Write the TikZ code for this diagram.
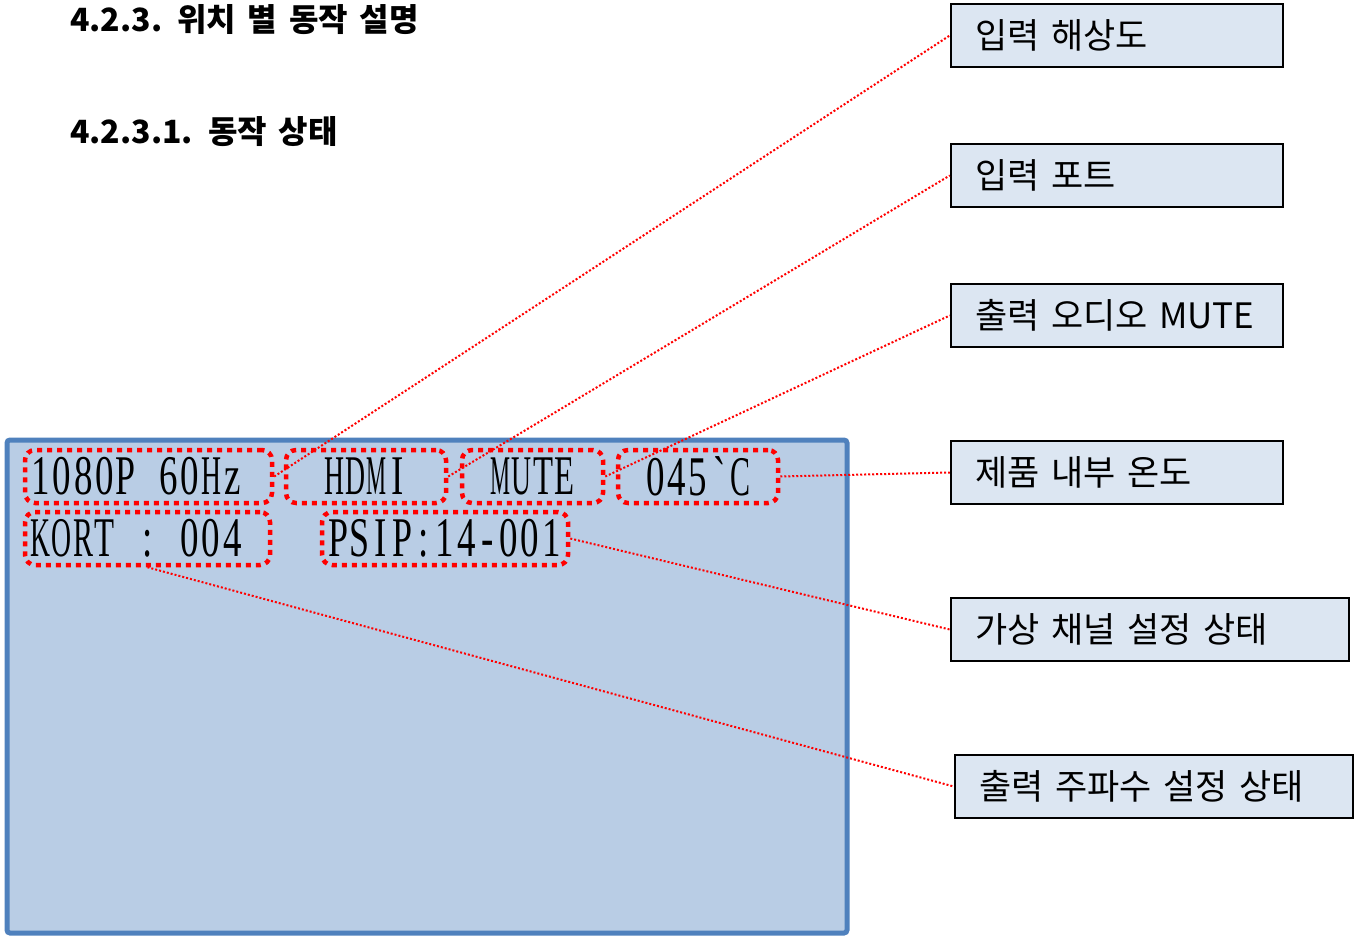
\documentclass[tikz,border=0pt]{standalone}
\usepackage{fontspec}
\usepackage{xcolor}
\usepackage{graphicx}
\usepackage{tikz}
\usetikzlibrary{positioning,calc}
\newfontfamily\krfont[WordSpace=2.6]{Noto Sans CJK KR}
\newfontfamily\krhead[WordSpace=1.6]{Noto Sans CJK KR}
\newfontfamily\lcdfont[FakeStretch=0.66]{Liberation Serif}
\newsavebox\lcdbox
\newcommand\lcdtext[1]{\lcdchars#1\relax}
\def\lcdchars#1{\ifx#1\relax\else\lcdglyph{#1}\expandafter\lcdchars\fi}
\newcommand\lcdglyph[1]{\sbox\lcdbox{#1}\makebox[21.3pt]{\ifdim\wd\lcdbox>20pt \resizebox{20pt}{\height}{\usebox\lcdbox}\else\usebox\lcdbox\fi}}
\definecolor{lcdfill}{HTML}{B9CDE5}
\definecolor{lcdedge}{HTML}{4F81BD}
\definecolor{capfill}{HTML}{DCE6F2}
\tikzset{
  heading/.style={anchor=west, inner sep=0pt, font=\krhead\bfseries\fontsize{32}{38}\selectfont},
  lcd/.style={draw=lcdedge, line width=5pt, fill=lcdfill, rounded corners=3pt},
  hotspot/.style={draw=red, line width=4.5pt, dash pattern=on 5pt off 5pt, rounded corners=10pt,
    minimum width=#1, minimum height=53pt, inner sep=0pt, font=\lcdfont\fontsize{56}{58}\selectfont},
  flushed/.style={inner xsep=5pt, text width=#1, align=left},
  caption/.style={draw=black, line width=2.5pt, fill=capfill, inner xsep=24pt, inner ysep=0pt,
    minimum height=63pt, text width=#1, align=left, font=\krfont\fontsize{35}{40}\selectfont},
  caption/.default=284pt,
  leader/.style={draw=red, line width=2pt, dotted}
}
\begin{document}
\begin{tikzpicture}[x=1pt, y=-1pt]
    \useasboundingbox (0,0) rectangle (1356,936);
    \node (title) [heading] at (70,20) {4.2.3.\hspace{15pt}위치 별 동작 설명};
    \node (subtitle) [heading] at (70,132) {4.2.3.1.\hspace{15pt}동작 상태};
    \node (panel) [lcd, minimum width=840pt, minimum height=493pt] at (427,686.5) {};
    \node (res) [hotspot=247pt, flushed=237pt] at (148.5,476.5) {\lcdtext{1080P~60Hz}};
    \node (port) [hotspot=160pt] at (366,476.5) {\lcdtext{HDMI}};
    \node (mute) [hotspot=141pt] at (532.5,476.5) {\lcdtext{MUTE}};
    \node (temp) [hotspot=160pt] at (698,476.5) {\lcdtext{045`C}};
    \node (freq) [hotspot=245pt, flushed=235pt] at (147.5,538.5) {\lcdtext{KORT~:~004}};
    \node (psip) [hotspot=246pt] at (445,538.5) {\lcdtext{PSIP:14-001}};
    \node (capres) [caption] at (1117,35.5) {입력 해상도};
    \node (capport) [caption] at (1117,175.5) {입력 포트};
    \node (capmute) [caption] at (1117,315.5) {출력 오디오 MUTE};
    \node (captemp) [caption] at (1117,472.5) {제품 내부 온도};
    \node (cappsip) [caption=350pt] at (1150,629.5) {가상 채널 설정 상태};
    \node (capfreq) [caption=350pt] at (1154,786.5) {출력 주파수 설정 상태};
    \draw [leader] (res.east) -- (capres.west);
    \draw [leader] (port.east) -- (capport.west);
    \draw [leader] (mute.east) -- (capmute.west);
    \draw [leader] (temp.east) -- (captemp.west);
    \draw [leader] (psip.east) -- (cappsip.west);
    \draw [leader] (freq.south) -- (capfreq.west);
\end{tikzpicture}
\end{document}
